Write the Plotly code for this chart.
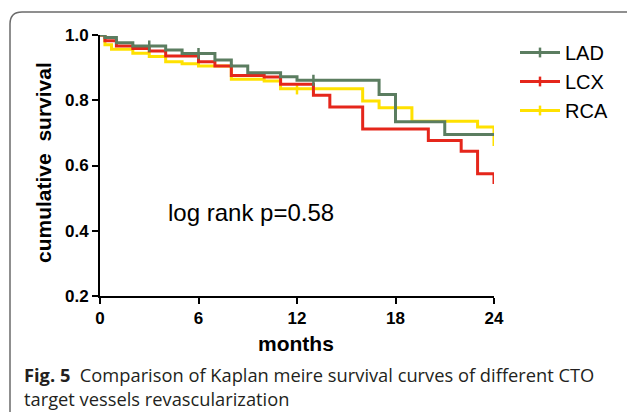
import plotly.graph_objects as go

# ---------------- data ----------------
lad_t = [0, 0.3, 1, 2, 4, 5, 7, 8, 9, 11, 12, 17, 18, 21, 24]
lad_s = [1.0, 0.992, 0.976, 0.966, 0.954, 0.943, 0.923, 0.905, 0.884, 0.872, 0.861, 0.818, 0.734, 0.695, 0.695]
lad_cens_t = [3, 6, 13]
lad_cens_s = [0.966, 0.943, 0.861]

lcx_t = [0, 0.3, 1, 2, 3, 4, 6, 7, 8, 10, 11, 13, 14, 16, 20, 22, 23, 24]
lcx_s = [1.0, 0.982, 0.966, 0.959, 0.951, 0.936, 0.918, 0.905, 0.876, 0.871, 0.849, 0.815, 0.779, 0.712, 0.677, 0.644, 0.575, 0.543]

rca_t = [0, 0.3, 0.7, 2, 3, 4, 5, 6, 8, 10, 11, 16, 17, 19, 23, 24]
rca_s = [1.0, 0.97, 0.956, 0.944, 0.934, 0.918, 0.912, 0.905, 0.864, 0.859, 0.835, 0.798, 0.777, 0.736, 0.718, 0.66]
rca_cens_t = [12, 13]
rca_cens_s = [0.835, 0.835]

groups = ["LAD", "LCX", "RCA"]
colors = {"LAD": "#5b7d60", "LCX": "#e5261b", "RCA": "#ffe100"}

x_ticks = [0, 6, 12, 18, 24]
y_ticks = [0.2, 0.4, 0.6, 0.8, 1.0]

W, H = 627, 417
L, R, T, B = 100, 494, 35, 296


def px2x(px):
    return (px - L) / (R - L)


def py2y(py):
    return (B - py) / (B - T)


fig = go.Figure()

curves = {"LAD": (lad_t, lad_s), "LCX": (lcx_t, lcx_s), "RCA": (rca_t, rca_s)}
cens = {"LAD": (lad_cens_t, lad_cens_s), "RCA": (rca_cens_t, rca_cens_s)}

for g in ["RCA", "LCX", "LAD"]:
    t, s = curves[g]
    fig.add_trace(go.Scatter(x=t, y=s, mode="lines", line=dict(color=colors[g], width=3, shape="hv"),
                             showlegend=False, cliponaxis=False))
    if g in cens:
        ct, cs = cens[g]
        fig.add_trace(go.Scatter(x=ct, y=cs, mode="markers",
                                 marker=dict(symbol="line-ns", size=8, line=dict(color=colors[g], width=2.5)),
                                 showlegend=False, cliponaxis=False))

for g in groups:
    fig.add_trace(go.Scatter(x=[None], y=[None], mode="lines+markers", name=g,
                             line=dict(color=colors[g], width=3),
                             marker=dict(symbol="line-ns", size=7, line=dict(color=colors[g], width=2.5))))

axis_common = dict(showgrid=False, zeroline=False, showline=True, linecolor="black", linewidth=2,
                   ticks="outside", ticklen=6, tickwidth=2, tickcolor="black",
                   tickfont=dict(family="Liberation Sans, Arial", size=17, color="black", weight="bold"))

fig.update_xaxes(range=[0, 24], tickvals=x_ticks, ticktext=[str(v) for v in x_ticks], **axis_common)
fig.update_yaxes(range=[0.2, 1.0], tickvals=y_ticks, ticktext=[f"{v:.1f}" for v in y_ticks], **axis_common)

annotations = [
    dict(text="cumulative  survival", x=px2x(43), y=py2y(163), xref="paper", yref="paper",
         textangle=-90, showarrow=False, xanchor="center", yanchor="middle",
         font=dict(family="Liberation Sans, Arial", size=21, color="black", weight="bold")),
    dict(text="months", x=px2x(296), y=py2y(343), xref="paper", yref="paper",
         showarrow=False, xanchor="center", yanchor="middle",
         font=dict(family="Liberation Sans, Arial", size=21, color="black", weight="bold")),
    dict(text="log rank p=0.58", x=px2x(166), y=py2y(212), xref="paper", yref="paper",
         showarrow=False, xanchor="left", yanchor="middle",
         font=dict(family="Liberation Sans, Arial", size=24, color="black")),
    dict(text="<b>Fig. 5</b>  Comparison of Kaplan meire survival curves of different CTO",
         x=px2x(22), y=py2y(375), xref="paper", yref="paper", showarrow=False,
         xanchor="left", yanchor="middle",
         font=dict(family="Open Sans", size=18.3, color="#231f20")),
    dict(text="target vessels revascularization",
         x=px2x(22), y=py2y(398), xref="paper", yref="paper", showarrow=False,
         xanchor="left", yanchor="middle",
         font=dict(family="Open Sans", size=18.3, color="#231f20")),
]

frame_path = (f"M {px2x(10)},{py2y(412)} L {px2x(10)},{py2y(24)} "
              f"Q {px2x(10)},{py2y(12)} {px2x(22)},{py2y(12)} L {px2x(640)},{py2y(12)}")

fig.update_layout(
    width=W, height=H,
    margin=dict(l=L, r=W - R, t=T, b=H - B),
    paper_bgcolor="white", plot_bgcolor="white",
    annotations=annotations,
    shapes=[dict(type="path", path=frame_path, xref="paper", yref="paper",
                 line=dict(color="#6b6b6b", width=1.5))],
    legend=dict(x=px2x(515), y=py2y(33), xanchor="left", yanchor="top",
                font=dict(family="Liberation Sans, Arial", size=20, color="black"),
                itemwidth=40, tracegroupgap=0, bgcolor="rgba(0,0,0,0)"),
)

fig.write_html("out.html")
